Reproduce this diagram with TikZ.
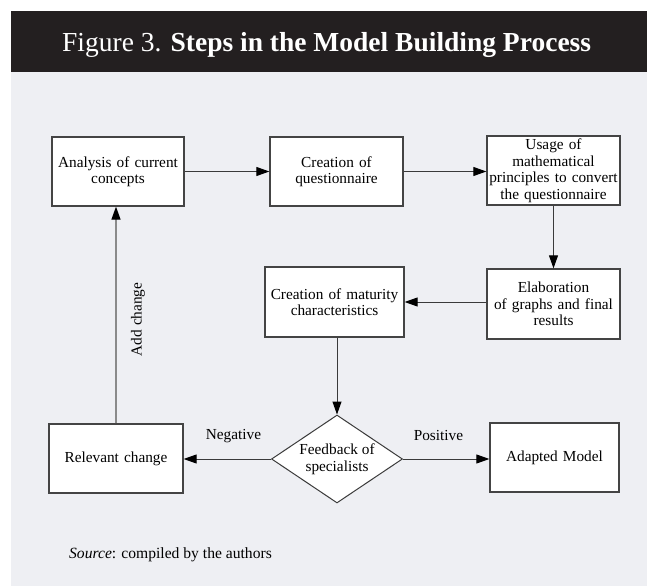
\documentclass[tikz,border=0pt]{standalone}
\usepackage{fontspec}
\setmainfont{Liberation Serif}
\usetikzlibrary{shapes.geometric,arrows.meta,positioning,calc}
\definecolor{hdr}{HTML}{231F20}
\definecolor{bggray}{HTML}{EEEFF3}
\definecolor{bordergray}{HTML}{444444}
\definecolor{linegray}{HTML}{3A3A3A}
\definecolor{lightline}{HTML}{8A8A8A}
\tikzset{
  x=1pt,y=-1pt,
  boxfont/.style={font=\fontsize{15.3}{16.5}\selectfont},
  stepbox/.style={draw=bordergray,line width=1.3pt,fill=white,align=center,
    inner sep=0pt,boxfont},
  decision/.style={draw=linegray,line width=1pt,fill=white,shape=diamond,
    aspect=1.49,inner sep=0pt,minimum width=131pt,minimum height=88pt,
    align=center,boxfont},
  tip/.style={-{Triangle[length=13pt,width=9pt,color=black]}},
  conn/.style={draw=linegray,line width=1pt,tip},
  lightconn/.style={draw=lightline,line width=1.3pt,tip},
  lbl/.style={boxfont,inner sep=1pt},
}
\begin{document}
\begin{tikzpicture}
\useasboundingbox (0,0) rectangle (649,586);
\fill[white] (0,0) rectangle (649,586);
\fill[bggray] (11,72) rectangle (647,586);
\fill[hdr] (11,11) rectangle (647,72);
\node[anchor=base west,inner sep=0pt,text=white,font=\fontsize{27.5}{32}\selectfont] (title) at (62,52)
  {Figure 3. \textbf{Steps in the Model Building Process}};

\node[stepbox,text width=130pt,minimum width=132pt,minimum height=69pt] (b1) at (118,171.5) {Analysis of current\\concepts};
\node[stepbox,text width=131pt,minimum width=133pt,minimum height=69pt] (b2) at (336.5,171.5) {Creation of\\questionnaire};
\node[stepbox,text width=131pt,minimum width=133pt,minimum height=69pt] (b3) at (553.5,170.5) {Usage of\\mathematical\\principles to convert\\the questionnaire};
\node[stepbox,text width=131pt,minimum width=133pt,minimum height=70pt] (b4) at (553.5,304) {Elaboration\\of graphs and final\\results};
\node[stepbox,text width=137pt,minimum width=139pt,minimum height=70pt] (b5) at (334.5,302) {Creation of maturity\\characteristics};
\node[decision] (d) at (337,459) {Feedback of\\specialists};
\node[stepbox,text width=132pt,minimum width=134pt,minimum height=69pt] (rc) at (116,458.5) {Relevant change};
\node[stepbox,text width=127pt,minimum width=129pt,minimum height=69pt] (am) at (554.5,457.5) {Adapted Model};

\draw[conn] (b1.east) -- (b2.west);
\draw[conn] (b2.east) -- (b3.west |- b2.east);
\draw[conn] (b3.south) -- (b4.north);
\draw[conn] (b4.west |- b5.east) -- (b5.east);
\draw[conn] (d.north |- b5.south) -- (d.north);
\draw[conn] (d.west) -- (rc.east |- d.west) node[lbl,pos=0.43,above=23pt,anchor=center] (neg) {Negative};
\draw[conn] (d.east) -- (am.west |- d.east) node[lbl,pos=0.41,above=23pt,anchor=center] (pos) {Positive};
\draw[lightconn] (rc.north) -- (rc.north |- b1.south);
\node[lbl,rotate=90] (add) at ($(rc.north)!0.48!(rc.north |- b1.south)+(22,0)$) {Add change};

\node[anchor=base west,inner sep=0pt,font=\fontsize{15.6}{18}\selectfont] (src) at (69,558)
  {\textit{Source}: compiled by the authors};
\end{tikzpicture}
\end{document}
